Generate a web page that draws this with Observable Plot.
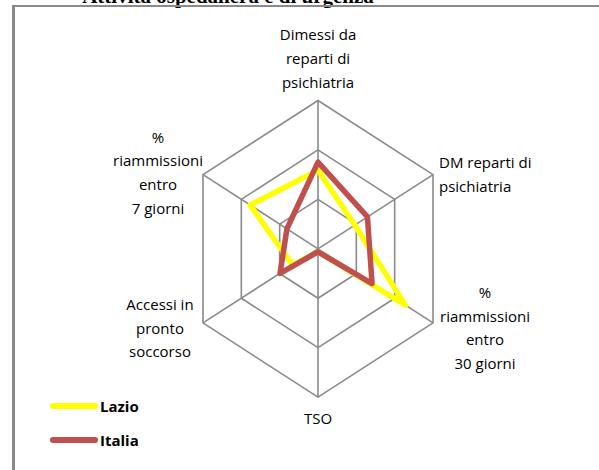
<!DOCTYPE html>
<html>
<head>
<meta charset="utf-8">
<script src="https://cdn.jsdelivr.net/npm/d3@7"></script>
<script src="https://cdn.jsdelivr.net/npm/@observablehq/plot@0.6"></script>
<style>
  html, body { margin: 0; padding: 0; background: #fff; }
  #wrap { position: relative; width: 599px; height: 470px; overflow: hidden; background: #fff; }
  #title { position: absolute; left: 0; width: 456px; top: -16px; text-align: center;
           font: bold 21px "Liberation Serif", "Times New Roman", serif; color: #000; white-space: nowrap; }
  #frame { position: absolute; left: 12px; top: 5px; right: -10px; bottom: -10px;
           border-top: 2px solid #8a8a8a; border-left: 3px solid #8a8a8a; }
  #chart { position: absolute; left: 0; top: 0; }
  .leg { position: absolute; left: 50px; display: flex; align-items: center;
         font: bold 15px "Open Sans", sans-serif; color: #000; }
  .leg span.sw { display: inline-block; width: 48px; height: 6px; border-radius: 3px; margin-right: 2px; }
</style>
</head>
<body>
<div id="wrap">
  <div id="title">Attività ospedaliera e di urgenza</div>
  <div id="frame"></div>
  <div id="chart"></div>
  <div id="legend"></div>
</div>
<script>
// ---- data ----
const axes = [
  "Dimessi da\nreparti di\npsichiatria",
  "DM reparti di\npsichiatria",
  "%\nriammissioni\nentro\n30 giorni",
  "TSO",
  "Accessi in\npronto\nsoccorso",
  "%\nriammissioni\nentro\n7 giorni"
];
const seriesNames = ["Lazio", "Italia"];
const lazio  = [0.53, 0.32, 0.76, 0.02, 0.22, 0.59];
const italia = [0.585, 0.43, 0.47, 0.02, 0.33, 0.27];
const rings = [1/3, 2/3, 1];
const colors = ["#ffff00", "#c0504d"];

// ---- derived ----
const n = axes.length;
const ang = i => (i * 2 * Math.PI) / n;
const px = (i, r) => r * Math.sin(ang(i));
const py = (i, r) => r * Math.cos(ang(i));

const ringPts = rings.flatMap(r => axes.map((a, i) => ({ring: r, x: px(i, r), y: py(i, r)})));
const spokes = axes.map((a, i) => ({x1: 0, y1: 0, x2: px(i, 1), y2: py(i, 1)}));
const seriesVals = [lazio, italia];
const seriesPts = seriesNames.flatMap((s, k) => seriesVals[k].map((v, i) => ({series: s, x: px(i, v), y: py(i, v)})));

const labelStyle = [
  {textAnchor: "middle", lineAnchor: "bottom", dx: 0, dy: -13},
  {textAnchor: "start", lineAnchor: "middle", dx: 6, dy: -2},
  {textAnchor: "middle", lineAnchor: "middle", dx: 52, dy: 3},
  {textAnchor: "middle", lineAnchor: "top", dx: 0, dy: 10},
  {textAnchor: "middle", lineAnchor: "middle", dx: -43, dy: 3},
  {textAnchor: "middle", lineAnchor: "middle", dx: -45, dy: -4}
];
const labelMarks = axes.map((a, i) => Plot.text([{x: px(i, 1), y: py(i, 1), t: a}], {
  x: "x", y: "y", text: "t", ...labelStyle[i],
  fontSize: 15, lineHeight: 1.58, fill: "#000"
}));

const cx = 317.5, cy = 248.3, ry = 148.3, rx = 132.8;
const plot = Plot.plot({
  width: 599, height: 470,
  margin: 0,
  style: {fontFamily: "'Open Sans', sans-serif", background: "transparent", overflow: "visible"},
  x: {domain: [-1, 1], range: [cx - rx, cx + rx], axis: null},
  y: {domain: [-1, 1], range: [cy + ry, cy - ry], axis: null},
  color: {domain: seriesNames, range: colors},
  marks: [
    Plot.line(ringPts, {x: "x", y: "y", z: "ring", curve: "linear-closed", stroke: "#8a8a8a", strokeWidth: 1.6}),
    Plot.link(spokes, {x1: "x1", y1: "y1", x2: "x2", y2: "y2", stroke: "#8a8a8a", strokeWidth: 1.6}),
    Plot.line(seriesPts, {x: "x", y: "y", z: "series", stroke: "series", curve: "linear-closed",
      strokeWidth: 5.5, strokeLinejoin: "round", strokeLinecap: "round"}),
    ...labelMarks
  ]
});
document.getElementById("chart").appendChild(plot);

const leg = document.getElementById("legend");
seriesNames.forEach((s, k) => {
  const d = document.createElement("div");
  d.className = "leg";
  d.style.top = (396 + k * 34) + "px";
  d.innerHTML = `<span class="sw" style="background:${colors[k]}"></span>${s}`;
  leg.appendChild(d);
});
</script>
</body>
</html>
